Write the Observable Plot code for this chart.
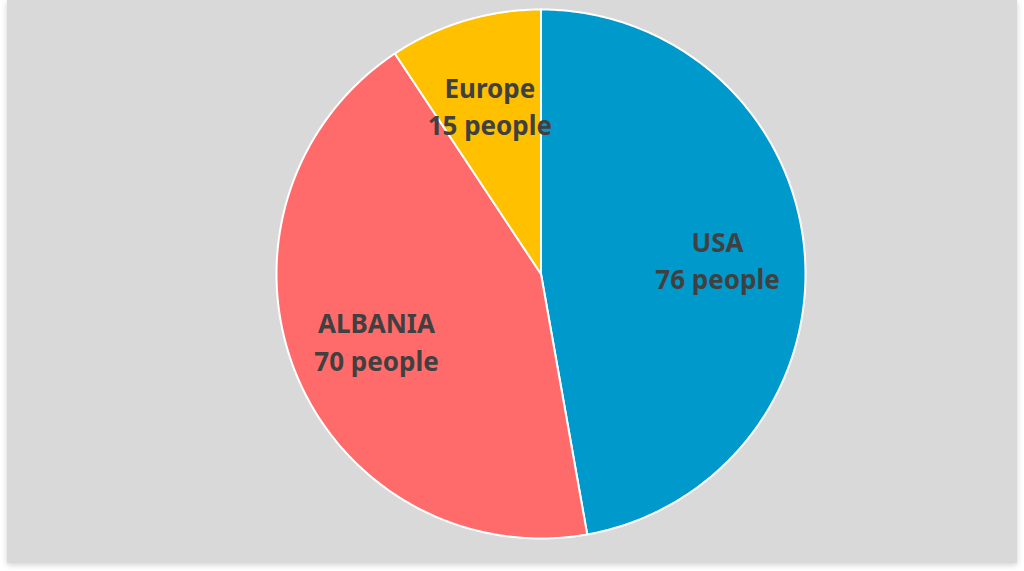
<!DOCTYPE html>
<html>
<head>
<meta charset="utf-8">
<script src="https://cdn.jsdelivr.net/npm/d3@7"></script>
<script src="https://cdn.jsdelivr.net/npm/@observablehq/plot@0.6"></script>
<style>
  html, body { margin: 0; padding: 0; background: #ffffff; }
  #frame {
    position: absolute; left: 7px; top: 0px; width: 1010px; height: 563px;
    background: #d9d9d9; box-shadow: 0 2px 6px rgba(0,0,0,0.18);
  }
  #chart { position: absolute; left: 0; top: 0; }
</style>
</head>
<body>
<div id="frame"></div>
<div id="chart"></div>
<script>
const categories = ["USA", "ALBANIA", "Europe"];
const values = [76, 70, 15];
const unitLabel = "people";
const colors = ["#0099cc", "#ff6b6b", "#ffc000"];

const pie = d3.pie().sort(null).value(d => d.value);
const arcs = pie(categories.map((name, i) => ({name, value: values[i]})));

// polygon points for each slice (angles clockwise from 12 o'clock)
const slicePts = [];
for (const a of arcs) {
  const name = a.data.name;
  slicePts.push({name, x: 0, y: 0});
  const n = Math.max(8, Math.ceil((a.endAngle - a.startAngle) / 0.01));
  for (let k = 0; k <= n; k++) {
    const t = a.startAngle + (a.endAngle - a.startAngle) * k / n;
    slicePts.push({name, x: Math.sin(t), y: Math.cos(t)});
  }
}

const labelR = 0.67;
const labels = arcs.map(a => {
  const m = (a.startAngle + a.endAngle) / 2;
  return {
    name: a.data.name,
    text: `${a.data.name}\n${a.data.value} ${unitLabel}`,
    x: labelR * Math.sin(m),
    y: labelR * Math.cos(m)
  };
});

const chart = Plot.plot({
  width: 1024,
  height: 571,
  marginLeft: 276,
  marginRight: 219,
  marginTop: 9,
  marginBottom: 33,
  x: {domain: [-1, 1], axis: null},
  y: {domain: [-1, 1], axis: null},
  color: {domain: categories, range: colors},
  style: {background: "transparent", overflow: "visible"},
  marks: [
    Plot.line(slicePts, {x: "x", y: "y", z: "name", fill: "name", stroke: "#ffffff", strokeWidth: 2, curve: "linear-closed", strokeLinejoin: "round"}),
    Plot.text(labels, {x: "x", y: "y", text: "text", fill: "#404040", fontSize: 26, fontWeight: "bold", fontFamily: "Noto Sans", lineHeight: 1.45})
  ]
});
document.getElementById("chart").appendChild(chart);
</script>
</body>
</html>
